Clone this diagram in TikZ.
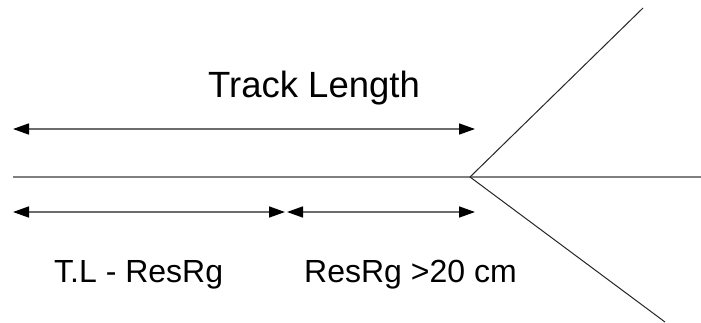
\documentclass[tikz,border=0pt]{standalone}
\usepackage{fontspec}
\setmainfont{Liberation Sans}
\usetikzlibrary{arrows.meta}
\begin{document}
\begin{tikzpicture}[x=1pt,y=-1pt,
  dim/.style={draw=gray!85!black,line width=1.6pt,{Triangle[length=16pt,width=11pt,fill=black,color=black]}-{Triangle[length=16pt,width=11pt,fill=black,color=black]}},
  lbl/.style={inner sep=0pt,anchor=base west},
  axis/.style={draw=gray,line width=1.4pt},
  branch/.style={draw=black!85,line width=1pt}]
\useasboundingbox[fill=white] (0,0) rectangle (701,322);
\coordinate (tl) at (13,129);
\coordinate (tr) at (475,129);
\coordinate (ml) at (13,177);
\coordinate (apex) at (470,177);
\coordinate (mr) at (701,177);
\coordinate (up) at (643,8);
\coordinate (dn) at (665,322);
\coordinate (bl) at (13,212);
\coordinate (bm1) at (285,212);
\coordinate (bm2) at (287,212);
\coordinate (br) at (475,212);
\draw[axis] (ml) -- (mr);
\draw[branch] (up) -- (apex) -- (dn);
\draw[dim] (tl) -- (tr);
\draw[dim] (bl) -- (bm1);
\draw[dim] (bm2) -- (br);
\node[lbl,font=\fontsize{36.5}{40}\selectfont] (t1) at (208,97) {Track Length};
\node[lbl,font=\fontsize{32}{36}\selectfont] (t2) at (54,282) {T.L - ResRg};
\node[lbl,font=\fontsize{32}{36}\selectfont] (t3) at (304,282) {ResRg >20 cm};
\end{tikzpicture}
\end{document}
